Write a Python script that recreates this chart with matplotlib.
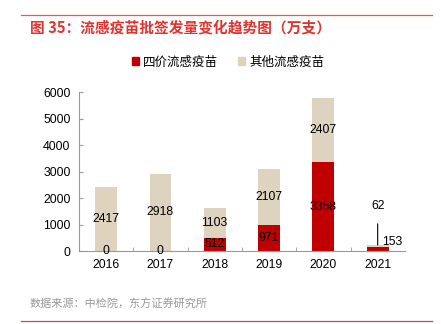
import matplotlib.pyplot as plt
from matplotlib.lines import Line2D

plt.rcParams['font.family'] = ['Liberation Sans', 'Noto Sans CJK SC', 'DejaVu Sans']

years = ['2016', '2017', '2018', '2019', '2020', '2021']
quad = [0, 0, 512, 971, 3358, 153]
other = [2417, 2918, 1103, 2107, 2407, 62]

red = '#C00000'
beige = '#DDD3BE'
cjk = ['Noto Sans CJK SC', 'DejaVu Sans']

fig = plt.figure(figsize=(4.41, 3.24), dpi=100)
ax = fig.add_axes([0.179, 0.225, 0.739, 0.491])

x = range(len(years))
ax.bar(x, quad, width=0.4, color=red, label='四价流感疫苗')
ax.bar(x, other, width=0.4, bottom=quad, color=beige, label='其他流感疫苗')

# segment labels, centred in each segment (last year handled separately)
for i in range(len(years) - 1):
    ax.text(i, quad[i] / 2, str(quad[i]), ha='center', va='center', fontsize=8.8)
    ax.text(i, quad[i] + other[i] / 2, str(other[i]), ha='center', va='center', fontsize=8.8)
i = len(years) - 1
ax.text(i + 0.08, quad[i] + 180, str(quad[i]), ha='left', va='center', fontsize=8.8)
top = quad[i] + other[i]
ax.annotate(str(other[i]), xy=(i, top + 15), xytext=(i, 1700),
            ha='center', va='center', fontsize=8.8,
            arrowprops=dict(arrowstyle='-', color='black', lw=0.8, shrinkA=6.5, shrinkB=0))

ax.set_xlim(-0.5, len(years) - 0.5)
ax.set_ylim(0, 6000)
ax.set_yticks(range(0, 6001, 1000))
ax.set_xticks(list(x))
ax.set_xticklabels(years)
ax.set_xticks([k + 0.5 for k in range(len(years) - 1)], minor=True)
ax.tick_params(axis='x', which='major', length=0, labelsize=8.8, pad=6)
ax.tick_params(axis='x', which='minor', direction='in', length=3, color='#999999')
ax.tick_params(axis='y', direction='in', length=3, color='#999999', labelsize=8.8, pad=6)
for s in ['top', 'right']:
    ax.spines[s].set_visible(False)
for s in ['left', 'bottom']:
    ax.spines[s].set_color('#999999')
    ax.spines[s].set_linewidth(0.8)

handles = [plt.Rectangle((0, 0), 1, 1, color=red), plt.Rectangle((0, 0), 1, 1, color=beige)]
fig.legend(handles, ['四价流感疫苗', '其他流感疫苗'], loc='center', bbox_to_anchor=(0.517, 0.809),
           ncol=2, frameon=False, prop={'family': cjk, 'size': 9},
           handlelength=0.6, handleheight=0.6, handletextpad=0.3, columnspacing=1.6)

fig.add_artist(Line2D([0.048, 0.98], [0.953, 0.953], color='#E8595A', lw=0.9))
fig.add_artist(Line2D([0.048, 0.98], [0.009, 0.009], color='#E04040', lw=0.9))
fig.text(0.068, 0.915, '图 35：流感疫苗批签发量变化趋势图（万支）', color='#E2332F',
         fontsize=10.6, fontweight='bold', family=cjk, va='center')
fig.text(0.068, 0.062, '数据来源：中检院，东方证券研究所', color='#999999',
         fontsize=8, family=cjk, va='center')

fig.savefig('out.png', dpi=100)
